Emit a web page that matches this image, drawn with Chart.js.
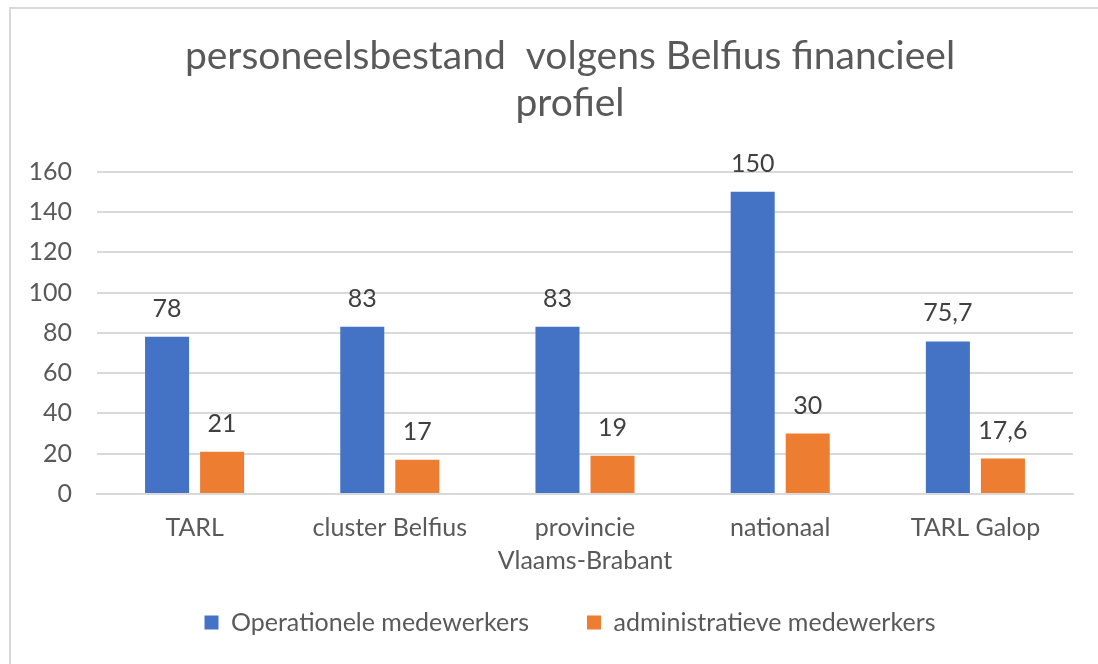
<!DOCTYPE html>
<html>
<head>
<meta charset="utf-8">
<script src="https://cdn.jsdelivr.net/npm/chart.js@4.4.1/dist/chart.umd.min.js"></script>
<style>
  html, body { margin: 0; padding: 0; background: #fff; overflow: hidden; }
  #frame { position: absolute; left: 9px; top: 7px; width: 1200px; height: 700px; border: 2px solid #d9d9d9; }
  #wrap { position: absolute; left: 0; top: 0; width: 1140px; height: 664px; }
</style>
</head>
<body>
<div id="frame"></div>
<div id="wrap"><canvas id="myChart" width="1140" height="664"></canvas></div>
<script>
const categorieen = ["TARL", "cluster Belfius", ["provincie", "Vlaams-Brabant"], "nationaal", "TARL Galop"];
const operationeel = [78, 83, 83, 150, 75.7];
const administratief = [21, 17, 19, 30, 17.6];
const yTicks = [0, 20, 40, 60, 80, 100, 120, 140, 160];

const lettertype = "Lato, 'Open Sans', sans-serif";

// waarden boven de staven, met komma als decimaalteken
const waardeLabels = {
  id: "waardeLabels",
  afterDatasetsDraw(chart) {
    const ctx = chart.ctx;
    ctx.save();
    ctx.font = "25px " + lettertype;
    ctx.fillStyle = "#404040";
    ctx.textAlign = "center";
    ctx.textBaseline = "alphabetic";
    chart.data.datasets.forEach((ds, i) => {
      const meta = chart.getDatasetMeta(i);
      meta.data.forEach((bar, j) => {
        const tekst = String(ds.data[j]).replace(".", ",");
        ctx.fillText(tekst, bar.x, bar.y - 20);
      });
    });
    ctx.restore();
  }
};

const ctx = document.getElementById("myChart");
const myChart = new Chart(ctx, {
  type: "bar",
  data: {
    labels: categorieen,
    datasets: [
      {
        label: "Operationele medewerkers",
        data: operationeel,
        backgroundColor: "#4472C4",
        categoryPercentage: 0.564,
        barPercentage: 0.8
      },
      {
        label: "administratieve medewerkers",
        data: administratief,
        backgroundColor: "#ED7D31",
        categoryPercentage: 0.564,
        barPercentage: 0.8
      }
    ]
  },
  options: {
    responsive: false,
    animation: false,
    layout: { padding: { left: 10, right: 10, top: 10, bottom: 19 } },
    plugins: {
      title: {
        display: true,
        text: ["personeelsbestand  volgens Belfius financieel", "profiel"],
        color: "#595959",
        font: { family: lettertype, size: 39, weight: "normal", lineHeight: 1.2 },
        padding: { top: 23, bottom: 45 }
      },
      legend: {
        position: "bottom",
        labels: {
          color: "#595959",
          font: { family: lettertype, size: 25 },
          boxWidth: 14,
          boxHeight: 14,
          padding: 58
        }
      },
      tooltip: { enabled: false }
    },
    scales: {
      x: {
        grid: { display: false },
        border: { color: "#d9d9d9", width: 2 },
        ticks: {
          color: "#595959",
          font: { family: lettertype, size: 25, lineHeight: 1.32 },
          // mirror + negatieve padding: labels onder de as zonder afknippen
          padding: -50,
          mirror: true,
          maxRotation: 0,
          autoSkip: false
        },
        afterFit(scale) { scale.height = 58; }
      },
      y: {
        min: 0,
        max: 160,
        border: { display: false },
        grid: { color: "#d9d9d9", lineWidth: 2, drawTicks: false },
        afterBuildTicks(scale) { scale.ticks = yTicks.map(v => ({ value: v })); },
        ticks: {
          color: "#595959",
          font: { family: lettertype, size: 25 },
          padding: 25
        },
        afterFit(scale) { scale.width = 87; }
      },
      // lege as rechts, zodat titel en legenda net als in het origineel gecentreerd staan
      rechts: {
        position: "right",
        grid: { display: false },
        border: { display: false },
        ticks: { display: false },
        afterFit(scale) { scale.width = 57; }
      }
    }
  },
  plugins: [waardeLabels]
});
</script>
</body>
</html>
